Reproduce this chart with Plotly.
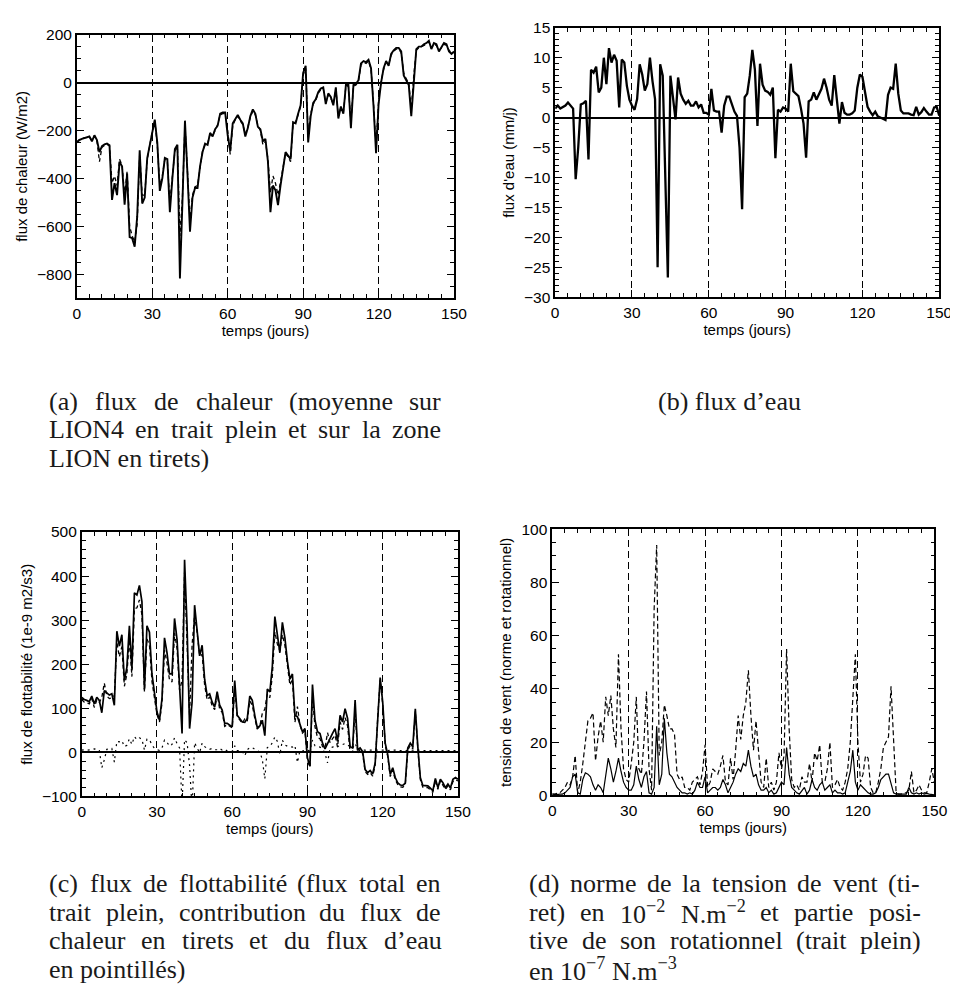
import re
import plotly.graph_objects as go

W, H = 958, 995

days = list(range(151))

# (a) heat flux, W/m2 : LION4 mean (solid) and LION zone mean (dashed)
heat_lion4 = [
    -250, -240, -235, -232, -228, -225, -245, -220, -240, -290,
    -265, -258, -255, -262, -490, -420, -470, -330, -350, -510,
    -380, -645, -650, -685, -560, -283, -505, -480, -315, -260,
    -200, -155, -250, -452, -400, -315, -320, -541, -400, -278,
    -260, -818, -500, -159, -380, -623, -480, -440, -440, -350,
    -290, -255, -260, -210, -225, -195, -180, -130, -125, -125,
    -220, -285, -170, -150, -135, -155, -170, -225, -190, -140,
    -112, -130, -185, -195, -245, -235, -330, -541, -430, -450,
    -512, -430, -360, -290, -305, -320, -165, -170, -130, -95,
    40, 70, -250, -140, -85, -70, -40, -25, -20, -90,
    -45, -60, -95, -20, -150, -100, -130, -10, -10, -190,
    -10, -5, 10, 80, 90, 85, 95, 60, -100, -295,
    -90, 0, 60, 90, 70, 120, 135, 145, 145, 130,
    30, 10, -10, -140, 20, 140, 150, 150, 160, 165,
    175, 140, 165, 160, 130, 150, 165, 160, 130, 120,
    130,
]
heat_lion = [
    -248, -238, -236, -230, -230, -228, -240, -222, -245, -330,
    -270, -262, -258, -265, -420, -390, -430, -320, -345, -470,
    -370, -600, -640, -665, -590, -300, -470, -470, -320, -255,
    -205, -160, -260, -430, -390, -320, -330, -500, -390, -285,
    -270, -640, -480, -175, -370, -580, -470, -435, -430, -345,
    -285, -260, -255, -215, -220, -200, -175, -135, -130, -130,
    -200, -300, -180, -155, -140, -160, -175, -215, -185, -145,
    -118, -135, -180, -200, -260, -245, -320, -460, -390, -420,
    -470, -415, -350, -295, -310, -330, -170, -165, -135, -100,
    30, 60, -220, -130, -90, -75, -45, -30, -25, -85,
    -50, -65, -90, -25, -140, -105, -125, -15, -15, -170,
    -15, -10, 5, 75, 85, 80, 90, 55, -90, -270,
    -80, 5, 55, 85, 75, 115, 130, 140, 140, 125,
    40, 15, 0, -110, 30, 135, 145, 150, 155, 160,
    170, 145, 160, 155, 135, 145, 160, 155, 135, 125,
    125,
]

# (b) water flux, mm/j
water = [
    1.5, 2.0, 1.5, 1.7, 2.0, 2.5, 2.0, 1.5, -10.3, -5.0,
    2.2, 2.4, 2.8, -7.0, 8.0, 7.5, 8.5, 4.2, 5.0, 10.0,
    5.6, 11.6, 9.2, 10.5, 9.5, 1.7, 9.7, 9.2, 5.3, 3.0,
    2.0, 1.3, 3.1, 8.9, 7.2, 4.5, 5.6, 10.0, 6.1, 3.1,
    -25.0, 8.9, 7.0, -10.0, -26.7, 7.0, 3.0, -0.3, 6.7, 4.0,
    3.0, 2.3, 2.8, 2.0, 2.0, 2.7, 1.7, 2.2, 0.8, 0.8,
    0.5, 4.8, 1.2, 1.0, 1.0, -2.5, 2.0, 3.5, 3.5, 2.2,
    1.0, 0.3, -5.0, -15.3, 3.4, 4.0, 7.0, 11.3, 8.0, -1.4,
    9.0, 5.5, 4.5, 4.3, 3.8, 5.0, -6.8, 1.3, 1.0, 1.7,
    1.5, 1.0, 9.0, 4.4, 4.0, 3.6, 1.5, -1.0, -6.7, 2.7,
    3.0, 4.2, 3.0, 3.8, 4.8, 6.5, 5.0, 3.0, 2.0, 7.1,
    3.0, -1.0, 2.6, 0.8, 0.5, 0.5, 0.7, 1.2, 5.0, 7.2,
    6.8, 4.5, 1.8, 1.0, 0.4, 1.0, 0.2, 0.0, -0.2, -0.4,
    3.8, 5.0, 4.8, 9.0, 4.0, 1.2, 0.7, 0.7, 0.7, 0.5,
    0.4, 1.8, 0.5, 0.9, 1.6, 1.0, 0.5, 0.5, 1.7, 1.8,
    0.3,
]

# (c) buoyancy flux, 1e-9 m2/s3 : total, heat part, water part
buoy_total = [
    125, 120, 118, 115, 128, 110, 125, 118, 90, 140,
    135, 130, 133, 107, 275, 241, 267, 163, 193, 287,
    190, 362, 357, 379, 342, 143, 287, 273, 178, 137,
    92, 73, 122, 260, 226, 178, 178, 304, 256, 151,
    43, 437, 286, 54, 114, 334, 282, 219, 243, 166,
    129, 133, 114, 103, 138, 107, 96, 66, 66, 62,
    58, 163, 84, 77, 69, 68, 77, 128, 118, 84,
    56, 60, 73, 38, 144, 137, 196, 308, 271, 226,
    295, 260, 207, 166, 178, 84, 81, 66, 47, 54,
    -13, -31, 154, 73, 47, 43, 21, 8, 21, 32,
    43, 54, 25, 84, 69, 99, 77, 13, 10, 119,
    6, 10, 2, -39, -46, -41, -49, -24, 84, 170,
    114, 21, -5, -50, -35, -57, -69, -74, -75, -70,
    10, 21, 13, 99, 13, -57, -75, -76, -76, -81,
    -87, -59, -80, -61, -69, -80, -72, -81, -61, -57,
    -61,
]
buoy_heat = [
    120, 114, 113, 110, 122, 102, 119, 113, 125, 157,
    128, 122, 124, 129, 250, 217, 240, 150, 177, 256,
    172, 326, 328, 346, 312, 138, 257, 244, 161, 128,
    86, 69, 112, 232, 203, 164, 160, 271, 236, 141,
    163, 408, 264, 84, 244, 312, 272, 220, 222, 153,
    119, 126, 105, 97, 132, 98, 91, 59, 63, 59,
    56, 148, 80, 74, 66, 76, 71, 117, 107, 77,
    53, 59, 89, 98, 133, 124, 174, 273, 246, 231,
    267, 243, 193, 153, 166, 68, 104, 62, 44, 49,
    -18, -34, 126, 58, 34, 31, 13, 10, 45, 22,
    31, 39, 12, 69, 52, 79, 60, 1, 1, 99,
    -2, 7, -3, -44, -50, -46, -54, -29, 78, 165,
    109, 16, -9, -55, -40, -62, -73, -78, -79, -74,
    5, 16, 8, 93, 8, -62, -79, -80, -80, -85,
    -91, -64, -84, -65, -74, -84, -76, -85, -66, -62,
    -65,
]
buoy_water = [
    5, 6, 5, 5, 6, 8, 6, 5, -35, -17,
    7, 8, 9, -22, 25, 24, 27, 13, 16, 31,
    18, 36, 29, 33, 30, 5, 30, 29, 17, 9,
    6, 4, 10, 28, 23, 14, 18, 33, 20, 10,
    -120, 29, 22, -30, -130, 22, 10, -1, 21, 13,
    10, 7, 9, 6, 6, 9, 5, 7, 3, 3,
    2, 15, 4, 3, 3, -8, 6, 11, 11, 7,
    3, 1, -16, -60, 11, 13, 22, 35, 25, -5,
    28, 17, 14, 13, 12, 16, -23, 4, 3, 5,
    5, 3, 28, 15, 13, 12, 8, -2, -24, 10,
    12, 15, 13, 15, 17, 20, 17, 12, 9, 20,
    8, 3, 5, 5, 4, 5, 5, 5, 6, 5,
    5, 5, 4, 5, 5, 5, 4, 4, 4, 4,
    5, 5, 5, 6, 5, 5, 4, 4, 4, 4,
    4, 5, 4, 4, 5, 4, 4, 4, 5, 5,
    4,
]

# (d) wind stress norm (dashed) and positive part of its curl (solid)
stress_norm = [
    0.5, 0.5, 0.8, 1, 2, 3, 5, 4, 7, 15,
    1, 5, 12, 20, 28, 29, 31, 13, 22, 28,
    20, 37, 30, 37.5, 25, 18, 53, 25, 10, 6,
    5, 12, 20, 37, 10, 8, 20, 39, 10, 2,
    70, 94, 15, 20, 34, 30, 25, 25, 23, 8,
    6, 7, 3, 3, 2, 5, 6, 7, 4, 9,
    19, 3, 5, 10, 9, 8, 11, 15, 5, 4,
    14, 6, 17, 30, 21, 30, 35, 47, 30, 17,
    28, 15, 5, 3, 14, 3, 5, 2, 5, 16,
    10, 15, 55, 25, 6, 3, 4, 2, 7, 5,
    5, 12, 5, 16, 13, 19, 5, 5, 10, 20,
    3, 4, 6, 3, 2, 5, 10, 20, 38, 53,
    20, 5, 8, 15, 14, 3, 1, 1, 5, 10,
    18, 20, 22, 41, 20, 1, 0.5, 0.5, 1, 1,
    2, 9, 1, 2, 4, 2, 1, 1, 5, 10,
    5,
]
stress_curl = [
    0.5, 0.3, 0.3, 0.5, 0.5, 1, 2, 3, 7, 8,
    1, 0.5, 6, 8.5, 8, 7, 4, 2, 4, 3,
    1, 8, 14, 10, 5, 9, 14, 9, 5, 3,
    2, 2, 4, 11, 6, 3, 7, 9, 1, 0.5,
    3, 26, 4, 8, 29, 16, 8, 7, 5, 3,
    2, 1, 1, 0.5, 1, 0.5, 2, 5, 3, 3,
    7, 1, 2, 3, 3, 2, 3, 6, 4, 1,
    3, 5, 8, 10, 9, 12, 11, 17, 11, 7,
    8, 4, 2, 2, 3, 1, 2, 0.5, 1, 3,
    5, 4, 18, 8, 3, 2, 1, 0.5, 2, 3,
    0.5, 2, 6, 3, 2, 4, 5, 2, 3, 4,
    1, 2, 1, 1, 0.5, 1, 5, 9, 17, 5,
    2, 4, 3, 2, 1, 0.5, 0.5, 1, 3, 6,
    7, 8, 8, 4, 1, 0.5, 0.5, 0.3, 0.3, 0.5,
    3, 1, 0.5, 1, 0.5, 1, 0.5, 0.8, 0.5, 0.3,
    0.2,
]

x_ticks = [0, 30, 60, 90, 120, 150]

captions = {
    "a": ["(a) flux de chaleur (moyenne sur",
          "LION4 en trait plein et sur la zone",
          "LION en tirets)"],
    "b": ["(b) flux d’eau"],
    "c": ["(c) flux de flottabilité (flux total en",
          "trait plein, contribution du flux de",
          "chaleur en tirets et du flux d’eau",
          "en pointillés)"],
    "d": ["(d) norme de la tension de vent (ti-",
          "ret) en 10<sup>−2</sup> N.m<sup>−2</sup> et partie posi-",
          "tive de son rotationnel (trait plein)",
          "en 10<sup>−7</sup> N.m<sup>−3</sup>"],
}


def px_x(a, b):
    return [a / W, b / W]


def px_y(top, bottom):
    return [1 - bottom / H, 1 - top / H]


SANS = "Liberation Sans, Arial, sans-serif"
SERIF = "Liberation Serif, Times New Roman, serif"


def base_axis(**kw):
    d = dict(
        showline=True, linecolor="black", linewidth=1.6, mirror="ticks",
        ticks="inside", ticklen=7, tickwidth=1.2, tickcolor="black",
        tickfont=dict(family=SANS, size=15.5, color="black"),
        showgrid=False, zeroline=False,
    )
    d.update(kw)
    return d


def x_axis(domain, anchor):
    return base_axis(
        domain=domain, anchor=anchor, range=[0, 150], tickvals=x_ticks,
        showgrid=True, gridcolor="black", gridwidth=1.3, griddash="7px,4px",
        minor=dict(ticks="inside", ticklen=4, dtick=5, tick0=0,
                   tickcolor="black", showgrid=False),
        title=dict(text="temps (jours)", standoff=0,
                   font=dict(family=SANS, size=15, color="black")),
    )


def y_axis(domain, anchor, rng, dtick, minor, title, standoff, zero=True):
    return base_axis(
        domain=domain, anchor=anchor, range=rng, dtick=dtick, tick0=0,
        zeroline=zero, zerolinecolor="black", zerolinewidth=1.6,
        minor=dict(ticks="inside", ticklen=4, dtick=minor, tick0=0,
                   tickcolor="black"),
        title=dict(text=title, standoff=standoff,
                   font=dict(family=SANS, size=15, color="black")),
    )


fig = go.Figure()

# (a)
fig.add_trace(go.Scatter(x=days, y=heat_lion, mode="lines", xaxis="x", yaxis="y",
                         line=dict(color="black", width=1.3, dash="4px,3px")))
fig.add_trace(go.Scatter(x=days, y=heat_lion4, mode="lines", xaxis="x", yaxis="y",
                         line=dict(color="black", width=1.9)))
# (b)
fig.add_trace(go.Scatter(x=days, y=water, mode="lines", xaxis="x2", yaxis="y2",
                         line=dict(color="black", width=2.3)))
# (c)
fig.add_trace(go.Scatter(x=days, y=buoy_water, mode="lines", xaxis="x3", yaxis="y3",
                         line=dict(color="black", width=1.2, dash="2px,4px")))
fig.add_trace(go.Scatter(x=days, y=buoy_heat, mode="lines", xaxis="x3", yaxis="y3",
                         line=dict(color="black", width=1.3, dash="4px,3px")))
fig.add_trace(go.Scatter(x=days, y=buoy_total, mode="lines", xaxis="x3", yaxis="y3",
                         line=dict(color="black", width=1.7)))
# (d)
fig.add_trace(go.Scatter(x=days, y=stress_norm, mode="lines", xaxis="x4", yaxis="y4",
                         line=dict(color="black", width=1.2, dash="5px,3px")))
fig.add_trace(go.Scatter(x=days, y=stress_curl, mode="lines", xaxis="x4", yaxis="y4",
                         line=dict(color="black", width=1.2)))

dom_a = (px_x(66, 450), px_y(18, 286))
dom_b = (px_x(553, 944), px_y(11, 285))
dom_c = (px_x(71, 454), px_y(524, 793))
dom_d = (px_x(550, 939), px_y(521, 792))

fig.update_layout(
    width=W, height=H,
    margin=dict(l=0, r=0, t=0, b=0),
    paper_bgcolor="white", plot_bgcolor="white",
    showlegend=False,
    xaxis=x_axis(dom_a[0], "y"),
    yaxis=y_axis(dom_a[1], "x", [-900, 200], 200, 50,
                 "flux de chaleur (W/m2)", 6),
    xaxis2=x_axis(dom_b[0], "y2"),
    yaxis2=y_axis(dom_b[1], "x2", [-30, 15], 5, 1, "flux d'eau (mm/j)", 6),
    xaxis3=x_axis(dom_c[0], "y3"),
    yaxis3=y_axis(dom_c[1], "x3", [-100, 500], 100, 20,
                  "flux de flottabilité (1e-9 m2/s3)", 6),
    xaxis4=x_axis(dom_d[0], "y4"),
    yaxis4=y_axis(dom_d[1], "x4", [0, 100], 20, 5,
                  "tension de vent (norme et rotationnel)", 6, zero=False),
)

# --- captions: justified lines like the LaTeX original ---
CAP_SIZE = 26
CAP_STEP = 29
# Times / Liberation Serif advance widths (em)
TW = {" ": .25, "(": .333, ")": .333, "-": .333, ".": .25, ",": .25, "’": .333,
      "a": .444, "b": .5, "c": .444, "d": .5, "e": .444, "é": .444, "f": .333,
      "h": .5, "i": .278, "l": .278, "m": .778, "n": .5, "o": .5, "p": .5,
      "r": .333, "s": .389, "t": .278, "u": .5, "v": .5, "x": .5, "y": .5,
      "z": .444, "L": .611, "I": .333, "O": .722, "N": .722, "−": .564}


def word_width(word):
    total = 0.0
    for part in re.split(r"(<sup>.*?</sup>)", word):
        scale = 1.0
        if part.startswith("<sup>"):
            part, scale = part[5:-6], 0.7
        total += scale * sum(TW.get(ch, .5) for ch in part)
    return total * CAP_SIZE


def add_text(txt, x, y, anchor="left"):
    fig.add_annotation(
        text=txt, xref="paper", yref="paper", x=x / W, y=1 - y / H,
        xanchor=anchor, yanchor="middle", showarrow=False, borderpad=0,
        font=dict(family=SERIF, size=CAP_SIZE, color="#1a1a1a"),
    )


cap_box = {"a": (37, 435, 391), "c": (37, 435, 882), "d": (525, 923, 882)}
for key, (left, right, top) in cap_box.items():
    lines = captions[key]
    for i, line in enumerate(lines):
        y = top + i * CAP_STEP
        words = line.split(" ")
        if i == len(lines) - 1:
            add_text(line, left, y)
            continue
        widths = [word_width(w) for w in words]
        gap = (right - left - sum(widths)) / (len(words) - 1)
        x = left
        for w, wd in zip(words, widths):
            add_text(w, x, y)
            x += wd + gap

add_text(captions["b"][0], 730, 391, anchor="center")

fig.write_html("out.html")
